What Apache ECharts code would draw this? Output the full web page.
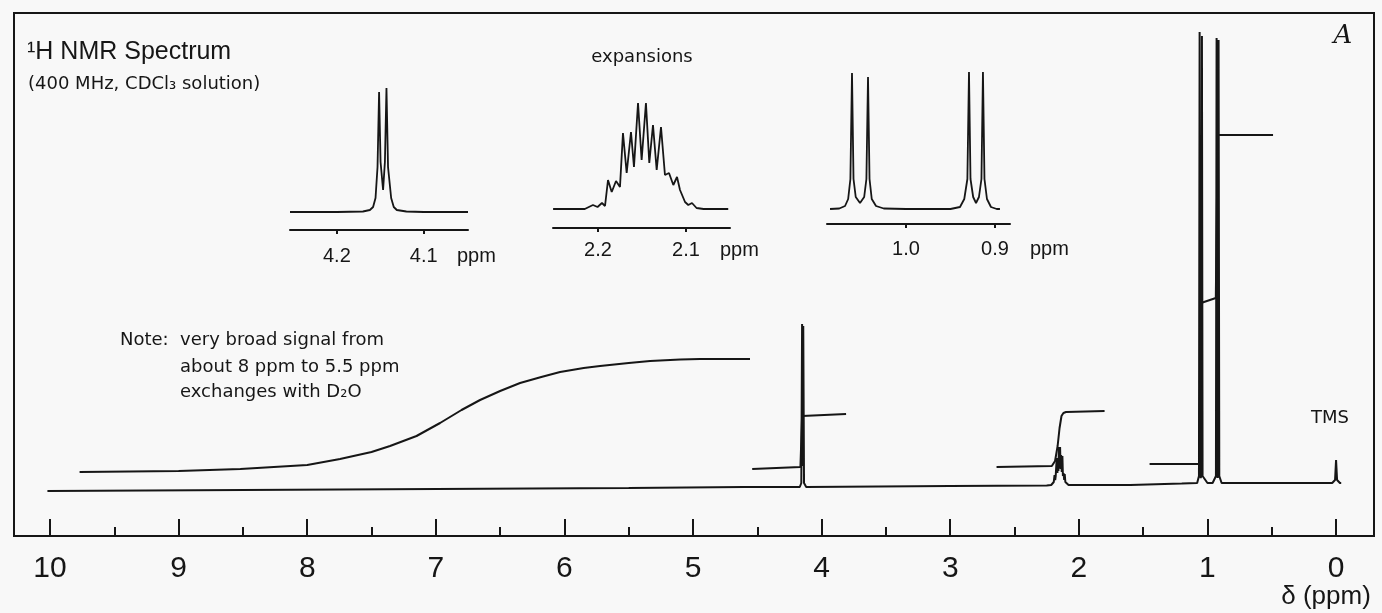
<!DOCTYPE html>
<html>
<head>
<meta charset="utf-8">
<script src="https://cdn.jsdelivr.net/npm/echarts@6/dist/echarts.min.js"></script>
<style>
  html, body { margin: 0; padding: 0; background: #f8f8f8; }
  #chart { width: 1382px; height: 613px; }
</style>
</head>
<body>
<div id="chart"></div>
<script>
// Chemical shift ticks of the full spectrum (ppm)
const mainTicks = [0, 1, 2, 3, 4, 5, 6, 7, 8, 9, 10];
const mainMinorTicks = [0.5, 1.5, 2.5, 3.5, 4.5, 5.5, 6.5, 7.5, 8.5, 9.5];

// Full 1H trace: [δ ppm, intensity]
const spectrum = [
  [10.02, -5], [8.5, -4], [7.0, -3], [5.5, -2], [4.6, -1], [4.17, -1],
  [4.158, 3], [4.152, 162], [4.1475, 20], [4.143, 160], [4.137, 3], [4.12, -1],
  [3.0, 0], [2.25, 0.5], [2.215, 1], [2.205, 3], [2.195, 4], [2.189, 11], [2.184, 6],
  [2.18, 10], [2.175, 8], [2.172, 28], [2.167, 13], [2.163, 28], [2.159, 15],
  [2.155, 39], [2.15, 18], [2.146, 39], [2.142, 17], [2.138, 31], [2.133, 14],
  [2.128, 30], [2.124, 10], [2.119, 13], [2.114, 6], [2.11, 12], [2.105, 4],
  [2.1, 3], [2.093, 2], [2.08, 1],
  [1.6, 1], [1.2, 2.5], [1.08, 3], [1.066, 10], [1.061, 454], [1.056, 12], [1.052, 8],
  [1.048, 12], [1.043, 450], [1.038, 10], [1.0, 3],
  [0.96, 3], [0.934, 10], [0.929, 448], [0.924, 12], [0.921, 8], [0.918, 12],
  [0.9135, 446], [0.908, 10], [0.89, 3],
  [0.5, 3], [0.03, 3], [0.008, 6], [0, 26], [-0.008, 6], [-0.03, 3], [-0.04, 3]
];

// Integral traces
const integralBroad = [
  [9.77, 14], [9.0, 15], [8.52, 17], [8.0, 21], [7.745, 27], [7.5, 34], [7.356, 40],
  [7.15, 50], [6.967, 63], [6.8, 76], [6.656, 86], [6.5, 95], [6.345, 103],
  [6.18, 109], [6.034, 114], [5.85, 118], [5.723, 120], [5.5, 123],
  [5.334, 125], [5.1, 126.5], [4.946, 127], [4.557, 127]
];
const integral415 = [[4.54, 17], [4.165, 19], [4.152, 70], [4.145, 72], [3.81, 72]];
const integral215 = [
  [2.64, 19], [2.21, 20], [2.185, 25], [2.165, 40], [2.15, 58], [2.135, 70],
  [2.12, 73], [2.1, 74], [1.80, 75]
];
const integral10 = [[1.45, 22], [1.065, 22], [1.05, 183], [0.935, 188], [0.92, 351], [0.49, 351]];

// Expansion of the 4.15 ppm doublet
const exp415Ticks = [4.2, 4.1];
const exp415 = [
  [4.254, 0], [4.2, 0], [4.17, 0.5], [4.162, 2], [4.1583, 5], [4.1555, 14],
  [4.1532, 45], [4.1514, 120], [4.1497, 50], [4.1468, 22], [4.1447, 50],
  [4.1429, 124], [4.1411, 45], [4.1375, 14], [4.1345, 5], [4.131, 2],
  [4.12, 0.5], [4.1, 0], [4.049, 0]
];

// Expansion of the 2.15 ppm multiplet
const exp215Ticks = [2.2, 2.1];
const exp215 = [
  [2.251, 0], [2.215, 0], [2.2057, 4], [2.2005, 2], [2.1955, 6], [2.192, 3],
  [2.1886, 29], [2.1844, 17], [2.1795, 28], [2.175, 22], [2.1716, 76],
  [2.1674, 36], [2.1625, 77], [2.1591, 42], [2.1545, 106], [2.1504, 49],
  [2.1455, 106], [2.1417, 46], [2.1375, 84], [2.1333, 39], [2.1284, 82],
  [2.1239, 34], [2.1193, 36], [2.1144, 24], [2.1102, 32], [2.1068, 19],
  [2.1011, 7], [2.0974, 4], [2.0932, 6], [2.088, 1], [2.08, 0], [2.052, 0]
];

// Expansion of the 1.05 / 0.92 ppm doublets
const exp10Ticks = [1.0, 0.9];
const exp10 = [
  [1.0854, 0], [1.075, 0.5], [1.0685, 3], [1.065, 10], [1.0625, 30], [1.0607, 136],
  [1.059, 30], [1.0565, 12], [1.0517, 6], [1.047, 12], [1.0445, 30], [1.0427, 132],
  [1.041, 30], [1.0385, 10], [1.0337, 3], [1.025, 0.5], [1.0, 0], [0.95, 0],
  [0.9393, 2], [0.9345, 10], [0.931, 30], [0.9292, 137], [0.9275, 30], [0.9245, 12],
  [0.9213, 6], [0.918, 12], [0.9152, 30], [0.9135, 137], [0.9118, 30], [0.909, 10],
  [0.9045, 2], [0.898, 0], [0.8944, 0]
];

const INK = '#161616';
const SANS = '"Liberation Sans", Arial, sans-serif';
const DEJA = '"DejaVu Sans", sans-serif';

function trace(data, xi, yi, width, smooth) {
  return {
    type: 'line', data: data, xAxisIndex: xi, yAxisIndex: yi,
    showSymbol: false, symbol: 'none', smooth: smooth || false,
    lineStyle: { color: INK, width: width }, silent: true, z: 3
  };
}

function insetAxis(gridIndex, min, max, ticks, margin) {
  return {
    type: 'value', gridIndex: gridIndex, inverse: true, min: min, max: max, position: 'bottom',
    axisLine: { show: true, onZero: false, lineStyle: { color: INK, width: 2 } },
    axisTick: { show: true, customValues: ticks, length: 4, lineStyle: { color: INK, width: 2 } },
    axisLabel: {
      show: true, customValues: ticks, margin: margin, fontSize: 20, fontFamily: SANS, color: INK,
      formatter: function (v) { return v.toFixed(1); }
    },
    splitLine: { show: false }
  };
}

function text(x, y, str, size, family, align, extra) {
  return {
    type: 'text', x: x, y: y, silent: true, z: 10,
    style: Object.assign({
      text: str, fontSize: size, fontFamily: family, fill: INK,
      align: align || 'left', verticalAlign: 'middle'
    }, extra || {})
  };
}

const chart = echarts.init(document.getElementById('chart'), null, { renderer: 'canvas' });

chart.setOption({
  backgroundColor: '#f8f8f8',
  animation: false,
  grid: [
    { left: 14, top: 13, width: 1360, height: 523, show: true, borderColor: INK, borderWidth: 2, backgroundColor: 'transparent' },
    { left: 290, top: 60, width: 178, height: 170 },
    { left: 553, top: 60, width: 177, height: 168 },
    { left: 827, top: 60, width: 183, height: 164 }
  ],
  xAxis: [
    {
      type: 'value', gridIndex: 0, inverse: true, min: -0.295, max: 10.28, position: 'bottom',
      axisLine: { show: true, onZero: false, lineStyle: { color: INK, width: 2 } },
      axisTick: { show: true, inside: true, customValues: mainTicks, length: 17, lineStyle: { color: INK, width: 2 } },
      axisLabel: { show: true, customValues: mainTicks, margin: 18, fontSize: 30, fontFamily: SANS, color: INK },
      splitLine: { show: false }
    },
    {
      type: 'value', gridIndex: 0, inverse: true, min: -0.295, max: 10.28, position: 'bottom',
      axisLine: { show: false, onZero: false },
      axisTick: { show: true, inside: true, customValues: mainMinorTicks, length: 9, lineStyle: { color: INK, width: 2 } },
      axisLabel: { show: false },
      splitLine: { show: false }
    },
    insetAxis(1, 4.049, 4.254, exp415Ticks, 16),
    insetAxis(2, 2.05, 2.2511, exp215Ticks, 12),
    insetAxis(3, 0.8831, 1.0888, exp10Ticks, 15)
  ],
  yAxis: [
    { type: 'value', gridIndex: 0, min: -50, max: 473, show: false },
    { type: 'value', gridIndex: 1, min: -18, max: 152, show: false },
    { type: 'value', gridIndex: 2, min: -19, max: 149, show: false },
    { type: 'value', gridIndex: 3, min: -15, max: 149, show: false }
  ],
  series: [
    trace(spectrum, 0, 0, 2),
    trace(integralBroad, 0, 0, 2),
    trace(integral415, 0, 0, 2),
    trace(integral215, 0, 0, 2),
    trace(integral10, 0, 0, 2),
    trace(exp415, 2, 1, 1.8),
    trace(exp215, 3, 2, 1.8),
    trace(exp10, 4, 3, 1.8)
  ],
  graphic: [
    text(27, 52, '¹H NMR Spectrum', 25, SANS),
    text(28, 84, '(400 MHz, CDCl₃ solution)', 18, DEJA),
    text(642, 57, 'expansions', 18, DEJA, 'center'),
    text(120, 340, 'Note:', 18, DEJA),
    text(180, 340, 'very broad signal from', 18, DEJA),
    text(180, 367, 'about 8 ppm to 5.5 ppm', 18, DEJA),
    text(180, 392, 'exchanges with D₂O', 18, DEJA),
    text(1330, 418, 'TMS', 18, DEJA, 'center'),
    text(1343, 36, 'A', 26, '"DejaVu Serif", serif', 'center', { fontStyle: 'italic' }),
    text(1326, 597, 'δ (ppm)', 26, SANS, 'center'),
    text(457, 256, 'ppm', 20, SANS),
    text(720, 250, 'ppm', 20, SANS),
    text(1030, 249, 'ppm', 20, SANS)
  ]
});
</script>
</body>
</html>
